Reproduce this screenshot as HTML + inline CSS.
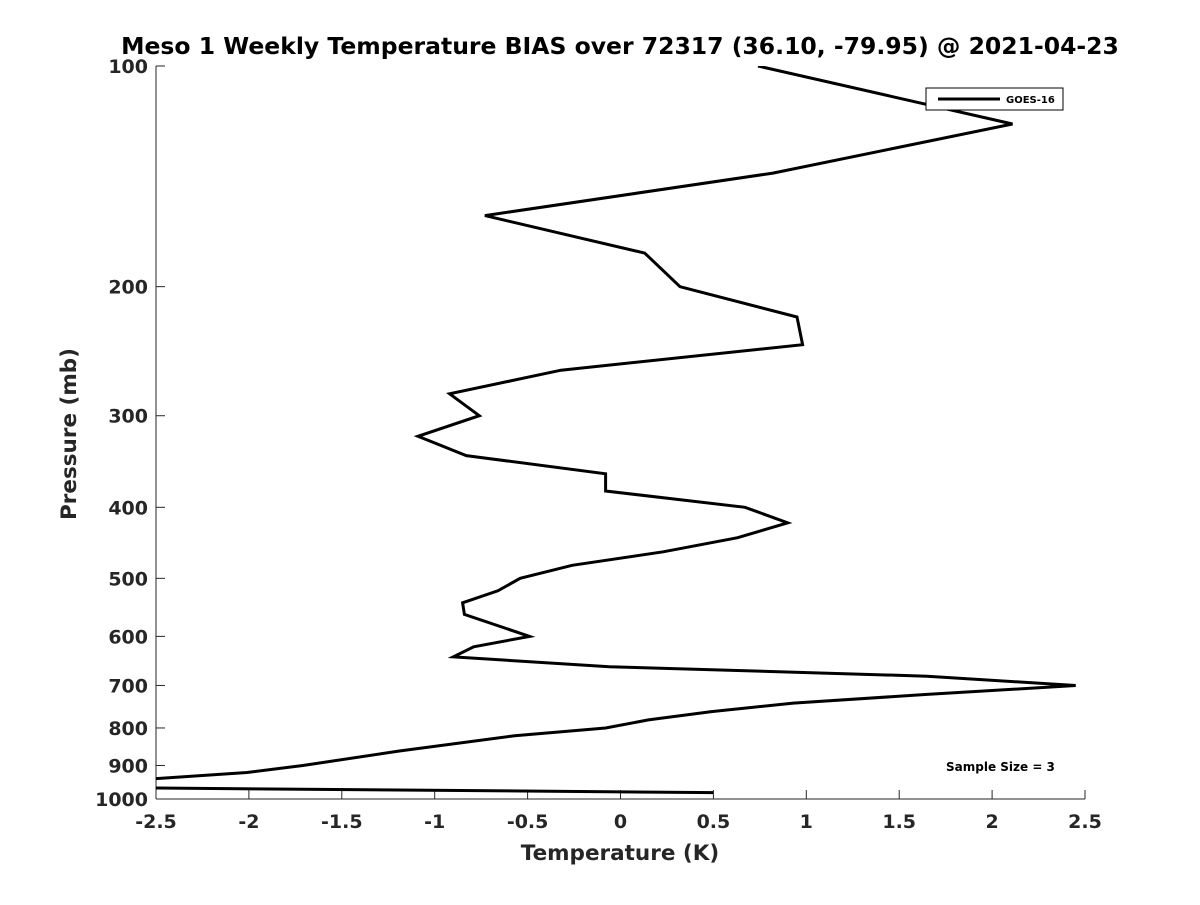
<!DOCTYPE html>
<html><head><meta charset="utf-8"><style>
body{margin:0;background:#fff;}
svg text{font-family:"DejaVu Sans","Liberation Sans",sans-serif;font-weight:bold;fill:#262626;}
</style></head><body>
<svg id="chart" width="1200" height="900" xmlns="http://www.w3.org/2000/svg">
<rect width="1200" height="900" fill="#fff"/>
<text x="620" y="54" font-size="23.5" text-anchor="middle" style="fill:#000">Meso 1 Weekly Temperature BIAS over 72317 (36.10, -79.95) @ 2021-04-23</text>
<defs><clipPath id="plotclip"><rect x="156" y="66" width="929" height="733"/></clipPath></defs>
<g id="axes"></g>
<g id="series" clip-path="url(#plotclip)"></g>
<text x="620" y="860" font-size="21.5" text-anchor="middle">Temperature (K)</text>
<text x="0" y="0" font-size="21.5" text-anchor="middle" transform="translate(76,434) rotate(-90)">Pressure (mb)</text>
<g>
<rect x="926" y="88" width="137" height="22" fill="#fff" stroke="#000" stroke-width="1"/>
<line x1="938" y1="99" x2="1000" y2="99" stroke="#000" stroke-width="3"/>
<text x="1006" y="103" font-size="10" style="fill:#000">GOES-16</text>
</g>
<text x="946" y="771" font-size="12" style="fill:#000">Sample Size = 3</text>
</svg>
<script>
const pressures = [100,120,140,160,180,200,220,240,260,280,300,320,340,360,380,400,420,440,460,480,500,520,540,560,600,620,640,660,680,700,720,740,760,780,800,820,860,900,920,940,960,980];
const biasGoes16 = [0.74,2.11,0.82,-0.73,0.13,0.32,0.95,0.98,-0.32,-0.92,-0.76,-1.09,-0.83,-0.08,-0.08,0.67,0.90,0.63,0.23,-0.26,-0.54,-0.66,-0.85,-0.84,-0.49,-0.79,-0.90,-0.06,1.65,2.45,1.65,0.93,0.49,0.15,-0.08,-0.57,-1.19,-1.71,-2.01,-2.55,-3.83,0.50];
const xTicks = [-2.5,-2,-1.5,-1,-0.5,0,0.5,1,1.5,2,2.5];
const xTickLabels = ["-2.5","-2","-1.5","-1","-0.5","0","0.5","1","1.5","2","2.5"];
const yTicks = [100,200,300,400,500,600,700,800,900,1000];

const X0=156,X1=1085,Y0=66,Y1=799,XMIN=-2.5,XMAX=2.5;
function xs(v){return X0+(v-XMIN)/(XMAX-XMIN)*(X1-X0);}
function ys(p){return Y0+(Math.log10(p)-2)*(Y1-Y0);}
const NS="http://www.w3.org/2000/svg";
function mk(t,a,parent){const e=document.createElementNS(NS,t);for(const k in a)e.setAttribute(k,a[k]);parent.appendChild(e);return e;}
const axes=document.getElementById('axes');
let l=mk('line',{x1:X0,y1:Y0,x2:X0,y2:Y1,stroke:'#262626','stroke-width':1},axes);


l=mk('line',{x1:X0,y1:Y1,x2:X1,y2:Y1,stroke:'#262626','stroke-width':1},axes);


xTicks.forEach((v,i)=>{
  const t=mk('line',{x1:xs(v),y1:Y1,x2:xs(v),y2:Y1-9,stroke:'#262626','stroke-width':1},axes);
  
  
  const tx=mk('text',{x:xs(v),y:Y1+29,'font-size':19,'text-anchor':'middle'},axes);
  tx.textContent=xTickLabels[i];
  
  
});
yTicks.forEach(p=>{
  const t=mk('line',{x1:X0,y1:ys(p),x2:X0+9,y2:ys(p),stroke:'#262626','stroke-width':1},axes);
  
  
  const tx=mk('text',{x:X0-8,y:ys(p)+7,'font-size':19,'text-anchor':'end'},axes);
  tx.textContent=String(p);
  
  
});
const pts=pressures.map((p,i)=>xs(biasGoes16[i]).toFixed(1)+','+ys(p).toFixed(1)).join(' ');
const pl=mk('polyline',{points:pts,fill:'none',stroke:'#000','stroke-width':3,'stroke-linejoin':'miter'},document.getElementById('series'));


</script>
</body></html>
